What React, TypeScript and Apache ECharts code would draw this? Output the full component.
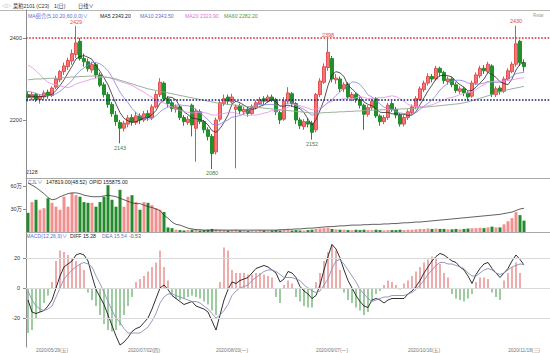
import React, { useEffect, useRef } from "react";
import * as echarts from "echarts";

// [open, close, low, high]
const ohlc: number[][] = [
  [2262,2255,2245,2270],[2254,2262,2248,2268],[2262,2250,2244,2266],[2250,2258,2240,2262],[2256,2266,2250,2272],
  [2268,2260,2252,2274],[2260,2278,2256,2282],[2280,2300,2275,2308],[2298,2318,2292,2322],[2318,2332,2310,2340],
  [2330,2345,2322,2352],[2344,2362,2335,2372],[2360,2388,2352,2429],[2392,2350,2345,2400],[2350,2342,2330,2362],
  [2342,2325,2318,2350],[2322,2335,2315,2342],[2335,2310,2302,2340],[2310,2285,2280,2316],[2286,2262,2255,2292],
  [2262,2238,2230,2268],[2238,2215,2208,2244],[2212,2196,2186,2222],[2194,2180,2143,2200],[2180,2192,2172,2198],
  [2190,2205,2182,2212],[2206,2195,2186,2214],[2194,2210,2188,2220],[2210,2200,2190,2216],[2200,2215,2195,2222],
  [2216,2206,2198,2224],[2205,2232,2200,2238],[2232,2262,2228,2270],[2262,2292,2256,2302],[2290,2252,2245,2294],
  [2252,2240,2232,2258],[2242,2228,2220,2248],[2226,2232,2218,2238],[2232,2206,2200,2236],[2206,2196,2186,2212],
  [2194,2202,2188,2210],[2236,2188,2160,2240],[2180,2222,2098,2228],[2220,2196,2190,2226],[2196,2176,2168,2200],
  [2176,2160,2150,2182],[2160,2118,2080,2166],[2122,2200,2116,2206],[2202,2242,2196,2250],[2240,2252,2234,2262],
  [2256,2246,2238,2262],[2244,2256,2240,2264],[2226,2232,2082,2238],[2234,2222,2214,2240],[2220,2226,2212,2232],
  [2226,2216,2208,2230],[2216,2232,2212,2238],[2230,2242,2226,2248],[2240,2250,2236,2256],[2252,2246,2238,2258],
  [2246,2256,2242,2262],[2256,2250,2244,2262],[2250,2220,2212,2254],[2218,2200,2190,2224],[2202,2246,2198,2256],
  [2246,2266,2240,2280],[2264,2240,2232,2268],[2240,2200,2190,2244],[2200,2186,2178,2206],[2184,2196,2176,2202],
  [2196,2190,2182,2204],[2192,2170,2152,2198],[2176,2262,2170,2266],[2262,2295,2256,2302],[2292,2330,2288,2338],
  [2328,2365,2320,2398],[2350,2300,2292,2356],[2298,2302,2288,2312],[2300,2276,2268,2306],[2276,2286,2268,2292],
  [2288,2256,2250,2292],[2254,2262,2246,2268],[2262,2250,2242,2266],[2250,2236,2228,2256],[2236,2214,2176,2240],
  [2214,2230,2208,2236],[2230,2246,2224,2252],[2252,2210,2205,2256],[2210,2196,2186,2214],[2196,2206,2190,2212],
  [2206,2236,2200,2242],[2240,2226,2220,2246],[2226,2212,2204,2232],[2212,2190,2184,2216],[2190,2206,2184,2212],
  [2206,2220,2200,2226],[2218,2232,2212,2238],[2232,2252,2226,2258],[2250,2276,2246,2282],[2274,2290,2268,2296],
  [2290,2306,2284,2314],[2306,2300,2292,2312],[2300,2326,2296,2332],[2326,2316,2306,2330],[2316,2296,2288,2320],
  [2294,2300,2286,2306],[2300,2286,2280,2304],[2286,2272,2266,2292],[2270,2276,2264,2282],[2276,2266,2258,2280],
  [2266,2256,2246,2270],[2258,2290,2254,2296],[2290,2310,2286,2316],[2308,2326,2302,2332],[2326,2320,2312,2334],
  [2318,2336,2314,2342],[2332,2262,2256,2336],[2262,2276,2256,2282],[2278,2270,2262,2284],[2270,2300,2266,2306],
  [2300,2320,2296,2326],[2318,2336,2314,2342],[2336,2386,2330,2430],[2392,2340,2332,2396],[2340,2330,2318,2348],
];

const ma5 = [2258,2258,2256,2257,2258, 2259,2262,2272,2284,2298, 2315,2331,2349,2355,2357, 2353,2348,2332,2319,2303, 2286,2262,2239,2218,2204, 2198,2194,2196,2200,2205, 2205,2213,2223,2241,2249, 2256,2255,2249,2232,2220, 2213,2205,2203,2201,2197, 2188,2174,2170,2179,2194, 2212,2239,2246,2242,2236, 2230,2226,2228,2233,2237, 2245,2249,2244,2234,2234, 2236,2234,2230,2228,2218, 2202,2188,2201,2223,2249, 2284,2310,2318,2315,2306, 2284,2276,2266,2258,2244, 2238,2235,2227,2219,2218, 2219,2215,2215,2214,2214, 2211,2212,2220,2237,2254, 2271,2285,2300,2308,2309, 2308,2305,2294,2286,2280, 2271,2272,2280,2290,2300, 2316,2311,2304,2293,2289, 2286,2300,2322,2336,2342];
const ma10 = [2270,2268,2265,2262,2260, 2259,2260,2264,2270,2278, 2287,2296,2310,2320,2327, 2334,2340,2340,2337,2330, 2320,2305,2286,2268,2254, 2242,2228,2218,2209,2205, 2202,2204,2210,2220,2227, 2231,2234,2236,2237,2235, 2235,2230,2226,2217,2209, 2201,2190,2187,2190,2196, 2200,2207,2208,2211,2215, 2221,2233,2237,2238,2237, 2238,2238,2236,2234,2236, 2241,2242,2237,2231,2226, 2219,2211,2216,2226,2234, 2243,2249,2260,2269,2278, 2284,2293,2292,2287,2275, 2261,2256,2247,2239,2231, 2229,2225,2221,2217,2216, 2215,2214,2218,2226,2234, 2241,2249,2260,2273,2282, 2290,2295,2297,2297,2295, 2290,2289,2287,2288,2290, 2294,2292,2292,2292,2295, 2301,2306,2313,2315,2316];
const ma20 = [2334,2328,2320,2310,2300, 2292,2288,2286,2283,2281, 2279,2282,2288,2291,2294, 2297,2300,2302,2304,2304, 2304,2301,2298,2294,2291, 2288,2284,2279,2273,2268, 2261,2255,2248,2244,2241, 2237,2231,2227,2223,2220, 2219,2217,2218,2219,2218, 2216,2212,2212,2214,2216, 2218,2219,2217,2214,2212, 2211,2212,2212,2214,2217, 2219,2223,2222,2223,2226, 2231,2238,2237,2235,2232, 2229,2225,2226,2230,2235, 2242,2246,2249,2250,2252, 2252,2252,2254,2257,2255, 2252,2253,2254,2254,2255, 2257,2259,2257,2252,2246, 2238,2235,2233,2233,2233, 2235,2237,2241,2245,2249, 2253,2255,2258,2262,2265, 2266,2269,2274,2281,2286, 2292,2294,2295,2295,2295, 2296,2298,2300,2302,2303];
const ma60 = [2298,2299,2300,2300,2301,2301,2302,2302,2303,2303, 2304,2305,2305,2306,2306,2307,2307,2307,2306,2305, 2304,2302,2300,2297,2294,2291,2288,2285,2282,2279, 2276,2274,2272,2270,2268,2266,2264,2262,2260,2258, 2256,2254,2252,2250,2248,2246,2244,2242,2240,2239, 2238,2237,2236,2235,2234,2233,2232,2231,2230,2229, 2228,2227,2226,2225,2224,2223,2222,2221,2220,2219, 2218,2217,2217,2217,2218,2218,2219,2219,2220,2220, 2221,2221,2222,2222,2223,2223,2224,2224,2225,2225, 2226,2226,2226,2227,2227,2228,2228,2229,2230,2231, 2232,2233,2234,2235,2236,2237,2238,2239,2240,2242, 2244,2247,2250,2253,2256,2259,2262,2265,2268,2271, 2274,2276,2278,2280,2282];

// volume and open interest, in 万
const volume = [25,39,42,29,31, 44,38,33,29,46, 33,51,48,46,39, 38,38,33,39,46, 61,42,33,55,33, 46,48,39,29,39, 38,35,31,29,26,
  6,5,
  3,2.5,2,2.5,3, 3.5,2,2.5,3,4, 3.5,3,2.5,2,2.5, 3,2,2,1.5,2, 2,2.5,2,2,
  2,2.5,2,2.5,3, 2,2.5,2,2,2.5, 3,4,4.5,5,5.5, 4,3.5,3,3,2.5, 2.5,3,2.5,3,2.5, 2.5,3,2.5,2,2.5,
  2.5,2.5,3,2.5,3, 3,3.5,4,4,4.5, 4,4.5,4,4,3.5, 3.5,4,3.5,4,4.5, 5,5,5.5,5,6, 7,6,6,10,14, 18,26,22,14.8];
const openInterest = [64,61,58,54,50, 45,42,43,46,48, 50,51,51,50,48, 47,46,46,46,47, 48,47,46,44,42, 40,38,37,37,35, 33,32,30,28,22, 18,
  13,10,9,7,5, 4,3,3,2.5,2.5, 2.5,2.5,2.5,2.5,2.5, 2.5,2.5,2.5,2.5,2.5, 2.5,2.5,2.5,2.5,2.5,
  2.5,2.5,3,3,3.5, 3.5,4,4,4.5,5, 5,5.5,6,6.5,7, 7,7.5,8,8,8.5, 9,9,9,9.5,9.5, 10,10,10,10.5,10.5,
  11,11,11.5,12,12, 12.5,13,13,13.5,14, 14.5,15,15.5,16,16.5, 17,17.5,18,18.5,19, 19.5,20,20.5,21,21.5, 22,22.5,23,24,25, 26,28,30,31];

const dif = [-8,-16,-17,-16,-15, -12,-8,0,8,14, 16,18,22,23,22, 18,8,-1,-6,-11, -18,-25,-32,-38,-36, -33,-29,-27,-26,-23, -20,-14,-7,0,2, -1,-5,-7,-9,-11, -10,-9,-12,-13,-14, -16,-22,-28,-18,-8, -1,4,3,5,6, 7,10,13,14,15, 14,12,10,4,6, 11,10,7,1,-2, -4,-7,-5,2,12, 21,29,26,20,12, 5,0,-5,-9,-12, -13,-8,-7,-8,-10, -8,-7,-7,-7,-7, -4,-2,1,5,10, 14,18,21,23,22, 20,18,17,14,12, 8,3,9,13,16, 17,13,10,7,10, 13,18,22,19,15.28];
const dea = [-2,-8,-12,-14,-15, -14,-12,-6,0,6, 9,12,14,16,17, 16,14,8,3,-3, -9,-15,-20,-23,-27, -30,-30,-30,-30,-28, -26,-22,-17,-10,-6, -4,-4,-5,-6,-7, -8,-9,-9,-10,-12, -14,-17,-20,-18,-15, -11,-5,-2,0,1, 2,5,7,9,11, 12,12,11,9,7, 7,7,6,5,2, 0,-2,-3,-2,2, 6,13,18,19,16, 12,8,4,-1,-4, -7,-9,-8,-7,-6, -6,-5,-5,-5,-5, -4,-3,-1,2,5, 9,12,15,17,17, 16,16,15,14,13, 10,8,8,10,12, 13,12,10,9,10, 12,14,15,16,15.54];
const macdHist = [-30,-28,-20,-16,-10, -5,4,18,25,24, 22,20,18,16,12, -3,-8,-12,-18,-24, -28,-29,-28,-25,-18, -12,-6,4,6,8, 11,14,17,25,14, 5,-4,-7,-8,-7, -6,-5,-6,-7,-9, -11,-15,-18,4,27, 25,12,10,10,10, 9,9,10,10,9, 8,7,-6,-10,2, 5,3,-6,-9,-12, -13,-13,4,10,18, 24,29,25,12,-3, -8,-10,-13,-15,-18, -16,-8,-4,-2,2, 5,4,2,-1,3, 5,8,11,14,17, 19,21,20,16,10, 7,-4,-7,-8,-9, -7,-4,4,7,7, 6,-3,-6,-8,5, 10,14,17,10,-0.53];

const dateLabels = ["2020/05/29(五)", "2020/07/02(四)", "2020/08/03(一)", "2020/09/07(一)", "2020/10/16(五)", "2020/11/18(三)"];
const dateLabelIndex = [6, 29, 51, 76, 99, 124];
const priceTicks = [2200, 2400];
const volumeTicks = [30, 60];
const macdTicks = [-20, 0, 20];
const levelLines = [2400, 2249];
const highMarks = [[12, 2429], [75, 2398], [122, 2430]];
const lowMarks = [[23, 2143], [46, 2080], [71, 2152]];

const SLOTS = 131;
const FONT = '"Liberation Sans", "Noto Sans CJK SC", sans-serif';
const UP = "#f07878";
const UP_BORDER = "#e45050";
const DOWN = "#228e2c";
const VOL_UP = "#f29090";
const VOL_DOWN = "#248a2c";
const FS = 5.2;

function txt(x: number, y: number, text: string, fill: string, size = FS) {
  return {
    type: "text",
    x,
    y,
    silent: true,
    style: { text, fill, fontSize: size, fontFamily: FONT, verticalAlign: "middle", align: "left" },
  };
}

export default function App() {
  const ref = useRef<HTMLDivElement>(null);

  useEffect(() => {
    if (!ref.current) return;
    const chart = echarts.init(ref.current, null, { renderer: "svg" });
    const cats = Array.from({ length: SLOTS }, (_, i) => String(i));

    const xBase = (gridIndex: number) => ({
      type: "category",
      gridIndex,
      data: cats,
      boundaryGap: true,
      axisLine: { show: true, lineStyle: { color: "#a8a8a8", width: 1 } },
      axisTick: { show: false },
      axisLabel: { show: false },
      splitLine: { show: false },
    });

    const volData = volume.map((v, i) => ({
      value: v,
      itemStyle: { color: ohlc[i][1] >= ohlc[i][0] ? VOL_UP : VOL_DOWN },
    }));
    const histData = macdHist.map((v) => ({
      value: v,
      itemStyle: { color: v >= 0 ? "#e25a5a" : "#3c9a44" },
    }));

    const yLabel = { fontSize: 5.5, color: "#333", fontFamily: FONT };

    const option: any = {
      animation: false,
      backgroundColor: "#ffffff",
      grid: [
        { left: 26, right: 0, top: 10, height: 168 },
        { left: 26, right: 0, top: 178, height: 54 },
        { left: 26, right: 0, top: 232, height: 115 },
      ],
      xAxis: [
        xBase(0),
        xBase(1),
        {
          ...xBase(2),
          axisLabel: {
            show: true,
            interval: (idx: number) => dateLabelIndex.indexOf(idx) >= 0,
            formatter: (_v: string, idx: number) => {
              const k = dateLabelIndex.indexOf(idx);
              return k >= 0 ? dateLabels[k] : "";
            },
            fontSize: 4.8,
            color: "#777",
            margin: 1,
            fontFamily: FONT,
          },
        },
      ],
      yAxis: [
        {
          type: "value",
          gridIndex: 0,
          min: 2058.5,
          max: 2468.3,
          splitLine: { show: false },
          axisLine: { show: true, lineStyle: { color: "#8c8c8c" } },
          axisTick: { show: true, length: 3, customValues: priceTicks, lineStyle: { color: "#8c8c8c" } },
          axisLabel: { ...yLabel, customValues: priceTicks, margin: 4, formatter: (v: number) => String(v) },
        },
        {
          type: "value",
          gridIndex: 1,
          min: 0,
          max: 70.4,
          splitLine: { show: false },
          axisLine: { show: true, lineStyle: { color: "#8c8c8c" } },
          axisTick: { show: true, length: 3, customValues: volumeTicks, lineStyle: { color: "#8c8c8c" } },
          axisLabel: { ...yLabel, customValues: volumeTicks, margin: 4, formatter: (v: number) => v + "万" },
        },
        {
          type: "value",
          gridIndex: 2,
          min: -39.3,
          max: 37.3,
          splitLine: { show: false },
          axisLine: { show: true, lineStyle: { color: "#8c8c8c" } },
          axisTick: { show: true, length: 3, customValues: macdTicks, lineStyle: { color: "#8c8c8c" } },
          axisLabel: { ...yLabel, customValues: macdTicks, margin: 6, formatter: (v: number) => String(v) },
        },
      ],
      series: [
        {
          type: "candlestick",
          xAxisIndex: 0,
          yAxisIndex: 0,
          data: ohlc,
          barWidth: 3,
          itemStyle: {
            color: UP,
            color0: DOWN,
            borderColor: UP_BORDER,
            borderColor0: DOWN,
            borderWidth: 1,
          },
          markLine: {
            silent: true,
            symbol: "none",
            label: { show: false },
            data: [
              { yAxis: levelLines[0], lineStyle: { color: "#e02828", type: "dotted", width: 1.6 } },
              { yAxis: levelLines[1], lineStyle: { color: "#1c1c78", type: "dotted", width: 1.6 } },
            ],
          },
          markPoint: {
            silent: true,
            symbol: "rect",
            symbolSize: 1,
            itemStyle: { color: "rgba(0,0,0,0)" },
            data: [
              ...highMarks.map(([i, v]) => ({
                coord: [i, v],
                value: v,
                label: { show: true, position: "top", distance: 1, color: "#e04a4a", fontSize: 5.5, fontFamily: FONT, formatter: "{c}" },
              })),
              ...lowMarks.map(([i, v]) => ({
                coord: [i, v],
                value: v,
                label: { show: true, position: "bottom", distance: 1, color: "#3f7f3f", fontSize: 5.5, fontFamily: FONT, formatter: "{c}" },
              })),
            ],
          },
        },
        { type: "line", name: "MA5", xAxisIndex: 0, yAxisIndex: 0, data: ma5, showSymbol: false, lineStyle: { color: "#2a2a2a", width: 0.8 } },
        { type: "line", name: "MA10", xAxisIndex: 0, yAxisIndex: 0, data: ma10, showSymbol: false, lineStyle: { color: "#8484dc", width: 0.8 } },
        { type: "line", name: "MA20", xAxisIndex: 0, yAxisIndex: 0, data: ma20, showSymbol: false, lineStyle: { color: "#e690e2", width: 0.8 } },
        { type: "line", name: "MA60", xAxisIndex: 0, yAxisIndex: 0, data: ma60, showSymbol: false, lineStyle: { color: "#92a892", width: 0.9 } },
        { type: "bar", name: "CJL", xAxisIndex: 1, yAxisIndex: 1, data: volData, barWidth: 3 },
        { type: "line", name: "OPID", xAxisIndex: 1, yAxisIndex: 1, data: openInterest, showSymbol: false, lineStyle: { color: "#3a3a3a", width: 0.8 } },
        {
          type: "bar",
          name: "MACD",
          xAxisIndex: 2,
          yAxisIndex: 2,
          data: histData,
          barWidth: 1,
          markLine: {
            silent: true,
            symbol: "none",
            label: { show: false },
            lineStyle: { color: "#dadada", type: "solid", width: 1 },
            data: macdTicks.map((v) => ({ yAxis: v })),
          },
        },
        { type: "line", name: "DIFF", xAxisIndex: 2, yAxisIndex: 2, data: dif, showSymbol: false, lineStyle: { color: "#1a1a1a", width: 0.9 } },
        { type: "line", name: "DEA", xAxisIndex: 2, yAxisIndex: 2, data: dea, showSymbol: false, lineStyle: { color: "#8a90b8", width: 0.9 } },
      ],
      graphic: [
        { type: "line", silent: true, shape: { x1: 0, y1: 10.5, x2: 550, y2: 10.5 }, style: { stroke: "#b8b8b8", lineWidth: 1 } },
        txt(2, 5.5, "◁▷", "#555", 4.5),
        txt(13, 5.5, "菜粕2101 (C23)", "#333"),
        txt(54, 5.5, "1(日)", "#333"),
        txt(78, 5.5, "日线∨", "#333"),
        txt(28, 16, "MA组合(5,10,20,60,0,0)∨", "#5b6fd0"),
        txt(100, 16, "MA5 2343.20", "#222"),
        txt(140, 16, "MA10 2343.50", "#5b6fd0"),
        txt(185, 16, "MA20 2323.90", "#e070d0"),
        txt(224, 16, "MA60 2282.20", "#4a9a4a"),
        txt(533, 15, "Rstar", "#999", 4.5),
        txt(26, 172, "2128", "#333"),
        txt(28, 182, "CJL∨", "#5b6fd0"),
        txt(46, 182, "147819.00(48.52)", "#222"),
        txt(89, 182, "OPID 155875.00", "#222"),
        txt(26, 236, "MACD(12,26,9)∨", "#5b6fd0"),
        txt(70, 236, "DIFF 15.28", "#222"),
        txt(102, 236, "DEA 15.54", "#6a7ab0"),
        txt(129, 236, "-0.53", "#555"),
      ],
    };

    chart.setOption(option);
    return () => chart.dispose();
  }, []);

  return (
    <div
      ref={ref}
      style={{ position: "fixed", left: 0, top: 0, width: 550, height: 353, background: "#fff" }}
    />
  );
}
